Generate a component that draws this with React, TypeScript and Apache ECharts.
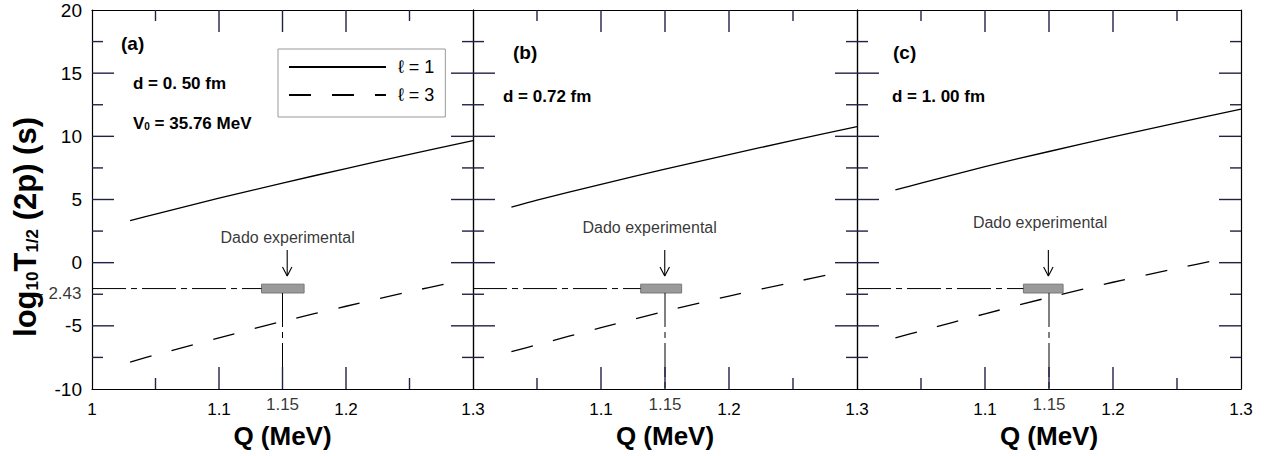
import React, { useEffect, useRef } from 'react';
import * as echarts from 'echarts';

const FONT = '"Liberation Sans", Arial, Helvetica, sans-serif';

// ---- data ----
const Q_L1 = [1.03, 1.05, 1.1, 1.15, 1.2, 1.25, 1.3];
const L1_A = [3.33, 3.85, 5.1, 6.3, 7.45, 8.57, 9.66];
const L1_B = [4.39, 4.95, 6.2, 7.4, 8.55, 9.68, 10.77];
const L1_C = [5.76, 6.3, 7.6, 8.8, 9.95, 11.07, 12.15];

const Q_L3 = [1.03, 1.05, 1.1, 1.15, 1.2, 1.25, 1.285];
const L3_A = [-7.87, -7.3, -5.95, -4.65, -3.45, -2.3, -1.55];
const L3_B = [-7.05, -6.5, -5.15, -3.85, -2.65, -1.55, -0.8];
const L3_C = [-5.96, -5.4, -4.05, -2.75, -1.55, -0.45, 0.29];

const PANEL_TAGS = ['(a)', '(b)', '(c)'];
const PANEL_D = ['d = 0. 50 fm', 'd = 0.72 fm', 'd = 1. 00 fm'];
const V0_VALUE = '35.76 MeV';

const EXP_Q = 1.15;
const EXP_Y = -2.05;
const EXP_LOW = -2.4;
const EXP_HIGH = -1.7;
const EXP_LABEL = '- 2.43';
const EXP_LABEL_Y = -2.43;
const BAR_Q = [[1.1335, 1.167], [1.131, 1.163], [1.13, 1.161]];
const ARROW_Q = [1.1537, 1.1498, 1.1495];
const ARROW_TOP = 1.0;
const ARROW_TIP = -1.05;
const ARROW_HEAD = 0.7;
const ARROW_HALF = 0.0037;
const DADO_Q = [1.154, 1.138, 1.143];
const DADO_Y = [2.0, 2.75, 3.2];
const DADO_TEXT = 'Dado experimental';

const X_MIN = 1, X_MAX = 1.3, X_INT = 0.1;
const Y_MIN = -10, Y_MAX = 20, Y_INT = 5;
const X_MAJOR = [1.1, 1.15, 1.2];
const X_MINOR = [1.05, 1.25];
const Y_MAJOR = [-5, 0, 5, 10, 15];
const Y_MINOR = [-7.5, -2.5, 2.5, 7.5, 12.5, 17.5];
const L_NAMES = ['\u2113 = 1', '\u2113 = 3'];
const X_NAME = 'Q (MeV)';

const L1 = [L1_A, L1_B, L1_C];
const L3 = [L3_A, L3_B, L3_C];

const GRIDS = [
  { left: 92, top: 10, width: 381, height: 379 },
  { left: 473, top: 10, width: 384, height: 379 },
  { left: 857, top: 10, width: 384, height: 379 },
];

const fmtX = (v: number) => String(Math.round(v * 100) / 100);

// tick descriptors: [axis (0 = x, 1 = y), value, major (1/0)]
const TICKS: number[][] = [
  ...X_MAJOR.map((v) => [0, v, 1]),
  ...X_MINOR.map((v) => [0, v, 0]),
  ...Y_MAJOR.map((v) => [1, v, 1]),
  ...Y_MINOR.map((v) => [1, v, 0]),
];

export default function App() {
  const ref = useRef<HTMLDivElement>(null);
  useEffect(() => {
    if (!ref.current) return;
    const chart = echarts.init(ref.current, null, { renderer: 'svg' });
    const xAxis: any[] = [];
    const yAxis: any[] = [];
    const series: any[] = [];
    GRIDS.forEach((_, i) => {
      const mkLine = () => ({ show: true, onZero: false, lineStyle: { color: '#000', width: 1.2 } });
      const noTick = () => ({ show: false });
      xAxis.push({
        gridIndex: i, type: 'value', min: X_MIN, max: X_MAX, interval: X_INT, position: 'bottom',
        axisLine: mkLine(), splitLine: { show: false }, axisTick: noTick(), minorTick: noTick(),
        axisLabel: {
          show: true, fontSize: 17, color: '#000', fontFamily: FONT, margin: 12,
          formatter: (v: number) => (i > 0 && fmtX(v) === '1' ? '' : fmtX(v)),
        },
        name: X_NAME, nameLocation: 'middle', nameGap: 32,
        nameTextStyle: { fontSize: 26, fontWeight: 'bold', color: '#000', fontFamily: FONT },
      });
      xAxis.push({
        gridIndex: i, type: 'value', min: X_MIN, max: X_MAX, interval: X_INT, position: 'top',
        axisLine: mkLine(), splitLine: { show: false }, axisTick: noTick(), minorTick: noTick(),
        axisLabel: { show: false },
      });
      yAxis.push({
        gridIndex: i, type: 'value', min: Y_MIN, max: Y_MAX, interval: Y_INT, position: 'left',
        axisLine: mkLine(), splitLine: { show: false }, axisTick: noTick(), minorTick: noTick(),
        axisLabel: { show: i === 0, fontSize: 19, color: '#000', fontFamily: FONT, margin: 10 },
      });
      yAxis.push({
        gridIndex: i, type: 'value', min: Y_MIN, max: Y_MAX, interval: Y_INT, position: 'right',
        axisLine: mkLine(), splitLine: { show: false }, axisTick: noTick(), minorTick: noTick(),
        axisLabel: { show: false },
      });

      const xi = i * 2, yi = i * 2;
      const st = { stroke: '#222244', lineWidth: 1.4 };
      // inside ticks on all four sides, placed through the axes' scales
      series.push({
        type: 'custom', name: 'ticks' + i, xAxisIndex: xi, yAxisIndex: yi, silent: true, clip: false,
        data: TICKS, z: 10,
        renderItem: (_p: any, api: any) => {
          const kind = api.value(0);
          const v = api.value(1);
          const len = api.value(2) ? 22 : 11;
          if (kind === 0) {
            const b = api.coord([v, Y_MIN]);
            const t = api.coord([v, Y_MAX]);
            return {
              type: 'group', children: [
                { type: 'line', shape: { x1: b[0], y1: b[1], x2: b[0], y2: b[1] - len }, style: st },
                { type: 'line', shape: { x1: t[0], y1: t[1], x2: t[0], y2: t[1] + len }, style: st },
              ],
            };
          }
          const l = api.coord([X_MIN, v]);
          const r = api.coord([X_MAX, v]);
          return {
            type: 'group', children: [
              { type: 'line', shape: { x1: l[0], y1: l[1], x2: l[0] + len, y2: l[1] }, style: st },
              { type: 'line', shape: { x1: r[0], y1: r[1], x2: r[0] - len, y2: r[1] }, style: st },
            ],
          };
        },
      });
      series.push({
        type: 'line', name: L_NAMES[0], xAxisIndex: xi, yAxisIndex: yi,
        data: Q_L1.map((q, k) => [q, L1[i][k]]), smooth: 0.3, symbol: 'none', showSymbol: false,
        lineStyle: { color: '#000', width: 1.3 }, itemStyle: { color: '#000' }, z: 3,
      });
      series.push({
        type: 'line', name: L_NAMES[1], xAxisIndex: xi, yAxisIndex: yi,
        data: Q_L3.map((q, k) => [q, L3[i][k]]), smooth: 0.3, symbol: 'none', showSymbol: false,
        lineStyle: { color: '#000', width: 1.3, type: [22, 21] }, itemStyle: { color: '#000' }, z: 3,
      });
      series.push({
        type: 'line', name: 'exp-h' + i, xAxisIndex: xi, yAxisIndex: yi, silent: true,
        data: [[X_MIN, EXP_Y], [BAR_Q[i][0], EXP_Y]], symbol: 'none',
        lineStyle: { color: '#000', width: 1, type: [34, 5, 6, 5] },
        markArea: {
          silent: true,
          itemStyle: { color: '#9a9a9a', borderColor: '#777', borderWidth: 1 },
          data: [[{ coord: [BAR_Q[i][0], EXP_HIGH] }, { coord: [BAR_Q[i][1], EXP_LOW] }]],
        },
        z: 4,
      });
      series.push({
        type: 'line', name: 'exp-v' + i, xAxisIndex: xi, yAxisIndex: yi, silent: true,
        data: [[EXP_Q, EXP_LOW], [EXP_Q, Y_MIN]], symbol: 'none',
        lineStyle: { color: '#000', width: 1, type: [34, 5, 6, 5] }, z: 4,
      });
      series.push({
        type: 'line', name: 'arrow' + i, xAxisIndex: xi, yAxisIndex: yi, silent: true,
        data: [[ARROW_Q[i], ARROW_TOP], [ARROW_Q[i], ARROW_TIP]], symbol: 'none',
        lineStyle: { color: '#000', width: 1.1 }, z: 4,
      });
      series.push({
        type: 'line', name: 'arrowhead' + i, xAxisIndex: xi, yAxisIndex: yi, silent: true,
        data: [
          [ARROW_Q[i] - ARROW_HALF, ARROW_TIP + ARROW_HEAD],
          [ARROW_Q[i], ARROW_TIP],
          [ARROW_Q[i] + ARROW_HALF, ARROW_TIP + ARROW_HEAD],
        ],
        symbol: 'none', lineStyle: { color: '#000', width: 1.1 }, z: 4,
      });
      series.push({
        type: 'scatter', name: 'dado' + i, xAxisIndex: xi, yAxisIndex: yi, silent: true, clip: false,
        data: [[DADO_Q[i], DADO_Y[i]]], symbolSize: 1, itemStyle: { color: 'rgba(0,0,0,0)' },
        label: { show: true, position: 'inside', formatter: DADO_TEXT, fontSize: 16, color: '#000', fontFamily: FONT },
      });
      series.push({
        type: 'scatter', name: 'q115-' + i, xAxisIndex: xi, yAxisIndex: yi, silent: true, clip: false,
        data: [[EXP_Q, Y_MIN]], symbolSize: 1, itemStyle: { color: 'rgba(0,0,0,0)' },
        label: { show: true, position: 'bottom', distance: 6, formatter: fmtX(EXP_Q), fontSize: 17, color: '#000', fontFamily: FONT },
      });
      if (i === 0) {
        series.push({
          type: 'scatter', name: 'explabel', xAxisIndex: xi, yAxisIndex: yi, silent: true, clip: false,
          data: [[X_MIN, EXP_LABEL_Y]], symbolSize: 1, itemStyle: { color: 'rgba(0,0,0,0)' },
          label: { show: true, position: 'left', distance: 10, formatter: EXP_LABEL, fontSize: 17, color: '#000', fontFamily: FONT },
        });
      }
    });

    const bold17 = { fontSize: 17, fontWeight: 'bold', fontFamily: FONT, fill: '#000' };
    const graphic: any[] = [
      { type: 'text', x: 121, y: 43, style: { text: PANEL_TAGS[0], fontSize: 19, fontWeight: 'bold', fontFamily: FONT, fill: '#000', verticalAlign: 'middle' } },
      { type: 'text', x: 513, y: 52, style: { text: PANEL_TAGS[1], fontSize: 19, fontWeight: 'bold', fontFamily: FONT, fill: '#000', verticalAlign: 'middle' } },
      { type: 'text', x: 893, y: 52, style: { text: PANEL_TAGS[2], fontSize: 19, fontWeight: 'bold', fontFamily: FONT, fill: '#000', verticalAlign: 'middle' } },
      { type: 'text', x: 133, y: 83, style: { text: PANEL_D[0], ...bold17, verticalAlign: 'middle' } },
      { type: 'text', x: 503, y: 96, style: { text: PANEL_D[1], ...bold17, verticalAlign: 'middle' } },
      { type: 'text', x: 892, y: 96, style: { text: PANEL_D[2], ...bold17, verticalAlign: 'middle' } },
      {
        type: 'text', x: 133, y: 123,
        style: {
          text: '{b|V}{s|0}{b| = ' + V0_VALUE + '}', verticalAlign: 'middle', fill: '#000',
          rich: {
            b: { fontSize: 17, fontWeight: 'bold', fontFamily: FONT, lineHeight: 17, verticalAlign: 'bottom' },
            s: { fontSize: 10, fontWeight: 'bold', fontFamily: FONT, lineHeight: 10, verticalAlign: 'bottom' },
          },
        },
      },
      {
        type: 'text', x: 25, y: 227, rotation: Math.PI / 2,
        style: {
          text: '{b|log}{s|10}{b|T}{s|1/2}{b| (2p) (s)}', align: 'center', verticalAlign: 'middle', fill: '#000',
          rich: {
            b: { fontSize: 31, fontWeight: 'bold', fontFamily: FONT, lineHeight: 31, verticalAlign: 'bottom' },
            s: { fontSize: 17, fontWeight: 'bold', fontFamily: FONT, lineHeight: 17, verticalAlign: 'bottom' },
          },
        },
      },
    ];

    chart.setOption({
      animation: false,
      textStyle: { fontFamily: FONT },
      grid: GRIDS.map((g) => ({ ...g })),
      xAxis, yAxis, series, graphic,
      legend: {
        data: L_NAMES, orient: 'vertical', left: 278, top: 49,
        itemWidth: 97, itemHeight: 14, itemGap: 10, padding: [9, 11, 13, 10],
        borderColor: '#999', borderWidth: 1, backgroundColor: '#fff', selectedMode: false,
        itemStyle: { opacity: 0 },
        formatter: (n: string) => '{t|' + n + '}',
        textStyle: { fontSize: 18, color: '#000', fontFamily: FONT, rich: { t: { fontSize: 18, padding: [0, 0, 0, 7], fontFamily: FONT } } },
      },
    });
    return () => chart.dispose();
  }, []);
  return <div ref={ref} style={{ position: 'absolute', left: 0, top: 0, width: 1270, height: 456, background: '#fff' }} />;
}
